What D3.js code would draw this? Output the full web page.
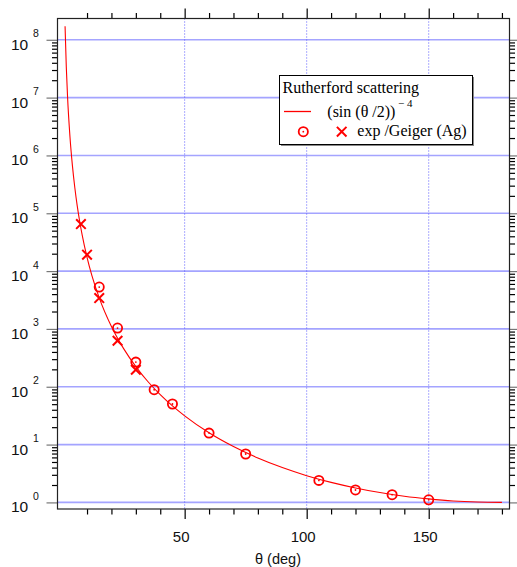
<!DOCTYPE html>
<html>
<head>
<meta charset="utf-8">
<script src="https://cdn.jsdelivr.net/npm/d3@7"></script>
<style>
  body { margin: 0; background: #fff; }
  svg { display: block; }
</style>
</head>
<body>
<div id="chart"></div>
<script>
// Chart area
var svgWidth = 517;
var svgHeight = 567;
var plot = { left: 57.5, right: 509.5, top: 18.5, bottom: 509 };

// Theory curve (sin(theta/2))^-4
var curveTheta = [1, 1.5, 2, 3, 4, 5, 6, 7, 8, 10, 12, 15, 20, 25, 30, 35, 40, 45, 50,
                  60, 70, 80, 90, 100, 110, 120, 130, 140, 150, 160, 170, 180];
var curveVal = [1.72e8, 3.41e7, 1.08e7, 2.13e6, 6.74e5, 2.76e5, 1.33e5, 7.2e4, 4.22e4, 1.73e4,
                8380, 3445, 1100, 456, 223, 122, 73.1, 46.6, 31.4,
                16, 9.24, 5.86, 4.0, 2.90, 2.22, 1.78, 1.48, 1.28, 1.15, 1.06, 1.015, 1.0];

// Geiger (Ag) data, circles
var circleTheta = [15, 22.5, 30, 37.5, 45, 60, 75, 105, 120, 135, 150];
var circleVal = [5300, 1036, 267, 88.8, 50.3, 15.8, 6.87, 2.40, 1.64, 1.36, 1.11];

// Geiger (Ag) data, crosses
var crossTheta = [7.5, 10, 15, 22.5, 30];
var crossVal = [65000, 19200, 3420, 625, 197];

// Ticks
var xMajorTicks = [50, 100, 150];
var xMinorTicks = d3.range(10, 181, 10);
var yDecades = [0, 1, 2, 3, 4, 5, 6, 7, 8];

var svg = d3.select("#chart")
  .append("svg")
  .attr("width", svgWidth)
  .attr("height", svgHeight);

// Scales
var xScale = d3.scaleLinear()
  .domain([-2.1, 183.1])
  .range([plot.left, plot.right]);

var yScale = d3.scaleLog()
  .domain([Math.pow(10, -0.114), Math.pow(10, 8.368)])
  .range([plot.bottom, plot.top]);

var yMinor = [];
yDecades.slice(0, -1).forEach(function(k) {
  for (var m = 2; m <= 9; m++) yMinor.push(m * Math.pow(10, k));
});
var yMajor = yDecades.map(function(k) { return Math.pow(10, k); });

// Grid lines
svg.append("g").selectAll("line")
  .data(yMajor)
  .enter()
  .append("line")
  .attr("x1", plot.left)
  .attr("x2", plot.right)
  .attr("y1", d => yScale(d))
  .attr("y2", d => yScale(d))
  .attr("stroke", "#a4a4ff")
  .attr("stroke-width", 1.6);

svg.append("g").selectAll("line")
  .data(xMajorTicks)
  .enter()
  .append("line")
  .attr("x1", d => xScale(d))
  .attr("x2", d => xScale(d))
  .attr("y1", plot.top)
  .attr("y2", plot.bottom)
  .attr("stroke", "#5a5aff")
  .attr("stroke-width", 1)
  .attr("stroke-dasharray", "1,2");

// Axes (ticks only, labels drawn separately)
function tickAxis(axisFn, scale, values, size, transform, color) {
  var g = svg.append("g")
    .attr("transform", transform)
    .call(axisFn(scale).tickValues(values).tickSize(size).tickFormat(""));
  g.select(".domain").remove();
  g.selectAll(".tick line").attr("stroke", color).attr("stroke-width", 1.2);
  return g;
}

tickAxis(d3.axisLeft, yScale, yMinor, 5.5, `translate(${plot.left},0)`, "#000");
tickAxis(d3.axisLeft, yScale, yMajor, 11, `translate(${plot.left},0)`, "#777");
tickAxis(d3.axisRight, yScale, yMinor, 5.5, `translate(${plot.right},0)`, "#000");
tickAxis(d3.axisRight, yScale, yMajor, 8, `translate(${plot.right},0)`, "#777");
tickAxis(d3.axisBottom, xScale, xMinorTicks.filter(d => xMajorTicks.indexOf(d) < 0), 5.5, `translate(0,${plot.bottom})`, "#000");
tickAxis(d3.axisBottom, xScale, xMajorTicks, 10, `translate(0,${plot.bottom})`, "#000");
tickAxis(d3.axisTop, xScale, xMinorTicks.filter(d => xMajorTicks.indexOf(d) < 0), 5.5, `translate(0,${plot.top})`, "#000");
tickAxis(d3.axisTop, xScale, xMajorTicks, 10, `translate(0,${plot.top})`, "#000");

// Frame
svg.append("rect")
  .attr("x", plot.left)
  .attr("y", plot.top)
  .attr("width", plot.right - plot.left)
  .attr("height", plot.bottom - plot.top)
  .attr("fill", "none")
  .attr("stroke", "#222")
  .attr("stroke-width", 1.2);

// y tick labels: 10 with superscript exponent
var yLab = svg.append("g")
  .style("font-family", "'Liberation Sans', Arial, sans-serif")
  .attr("fill", "#111");

yLab.selectAll("text.base")
  .data(yDecades)
  .enter()
  .append("text")
  .attr("class", "base")
  .attr("x", 11)
  .attr("y", d => yScale(Math.pow(10, d)) + 10)
  .style("font-size", "15.5px")
  .text("10");

yLab.selectAll("text.exp")
  .data(yDecades)
  .enter()
  .append("text")
  .attr("class", "exp")
  .attr("x", 33)
  .attr("y", d => yScale(Math.pow(10, d)) - 2.5)
  .style("font-size", "10.5px")
  .text(d => d);

// x tick labels
svg.append("g").selectAll("text")
  .data(xMajorTicks)
  .enter()
  .append("text")
  .attr("x", d => xScale(d) - 3.5)
  .attr("y", 542)
  .attr("text-anchor", "middle")
  .style("font-family", "'Liberation Sans', Arial, sans-serif")
  .style("font-size", "15px")
  .attr("fill", "#111")
  .text(d => d);

// x-Axis label
svg.append("text")
  .attr("x", 278)
  .attr("y", 564)
  .attr("text-anchor", "middle")
  .style("font-family", "'Liberation Sans', Arial, sans-serif")
  .style("font-size", "14.5px")
  .attr("fill", "#111")
  .text("θ (deg)");

// Theory curve
var curveData = curveTheta.map((t, i) => ({ t: t, v: curveVal[i] }));
var line = d3.line()
  .x(d => xScale(d.t))
  .y(d => yScale(d.v))
  .curve(d3.curveMonotoneX);

svg.append("path")
  .datum(curveData)
  .attr("d", line)
  .attr("fill", "none")
  .attr("stroke", "#ff0000")
  .attr("stroke-width", 1.1);

// Markers
function drawCircle(g, cx, cy) {
  g.append("circle").attr("cx", cx).attr("cy", cy).attr("r", 4.6)
    .attr("fill", "none").attr("stroke", "#ff0000").attr("stroke-width", 1.8);
  g.append("circle").attr("cx", cx).attr("cy", cy).attr("r", 0.9)
    .attr("fill", "#ff0000");
}
function drawCross(g, cx, cy) {
  var s = 4.8;
  g.append("path")
    .attr("d", `M${cx - s},${cy - s}L${cx + s},${cy + s}M${cx - s},${cy + s}L${cx + s},${cy - s}`)
    .attr("stroke", "#ff0000").attr("stroke-width", 2).attr("fill", "none");
}

var marks = svg.append("g");
circleTheta.forEach(function(t, i) {
  drawCircle(marks, xScale(t), yScale(circleVal[i]));
});
crossTheta.forEach(function(t, i) {
  drawCross(marks, xScale(t), yScale(crossVal[i]));
});

// Legend
var legend = svg.append("g")
  .style("font-family", "'Liberation Serif', 'Times New Roman', serif");

legend.append("rect")
  .attr("x", 281).attr("y", 77).attr("width", 193).attr("height", 69)
  .attr("fill", "#888");
legend.append("rect")
  .attr("x", 279.5).attr("y", 75.5).attr("width", 193).attr("height", 69)
  .attr("fill", "#fff").attr("stroke", "#000").attr("stroke-width", 1);

legend.append("text").attr("x", 282.5).attr("y", 92.5)
  .style("font-size", "16px").text("Rutherford scattering");

legend.append("path")
  .attr("d", "M284,111.5H311")
  .style("stroke", "#ff0000")
  .style("stroke-width", "1.3px")
  .style("fill", "none");

legend.append("text").attr("x", 327.3).attr("y", 116.5)
  .style("font-size", "16px").text("(sin (θ /2))");
legend.append("text").attr("x", 398).attr("y", 106.5)
  .style("font-size", "11px").text("− 4");

drawCircle(legend, 303.3, 131.7);
drawCross(legend, 341.7, 131.7);

legend.append("text").attr("x", 357.3).attr("y", 135.5)
  .style("font-size", "16px").text("exp /Geiger (Ag)");
</script>
</body>
</html>
